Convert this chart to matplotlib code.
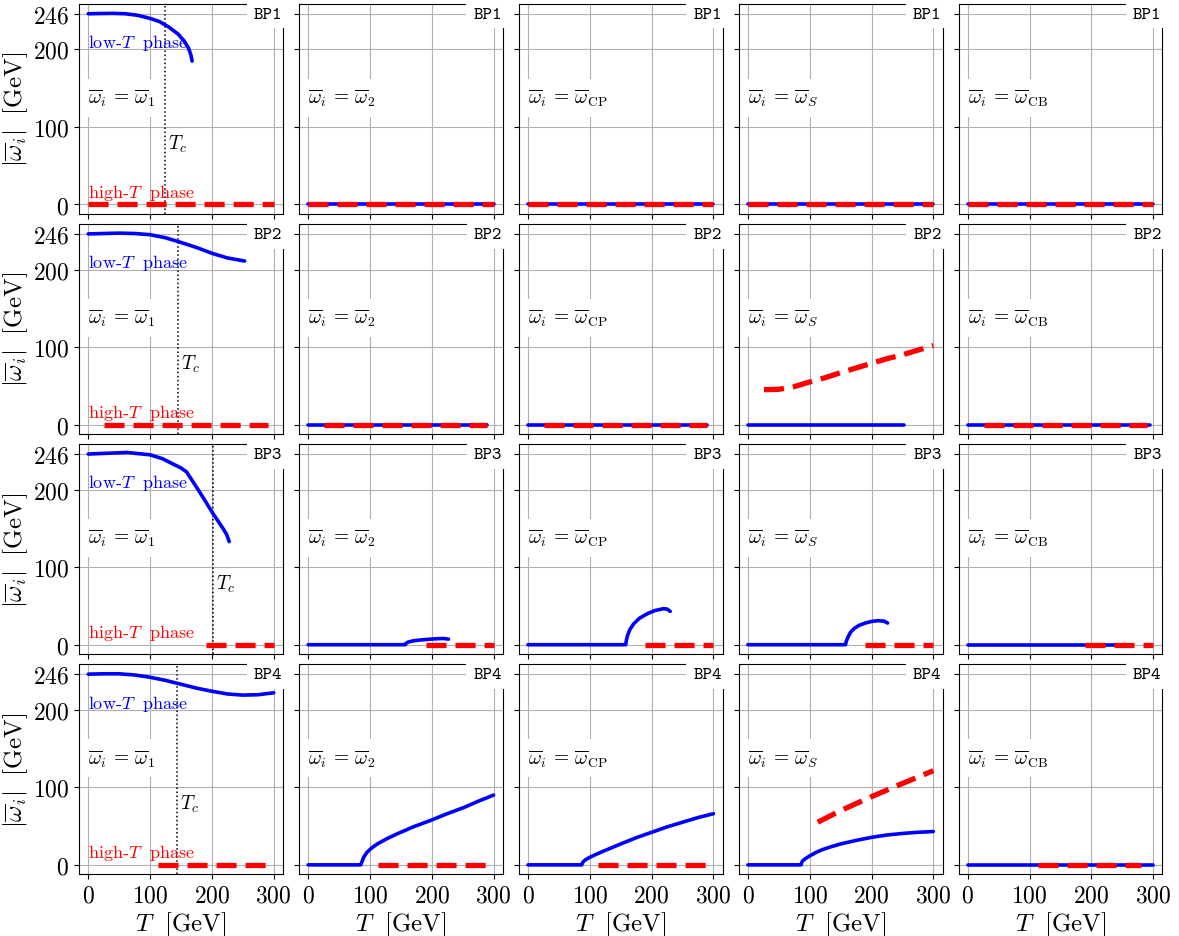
# -*- coding: utf-8 -*-
# *** Vacuum expectation values vs temperature, 4 benchmark points x 5 directions ***#
import matplotlib
matplotlib.use("Agg")
import matplotlib.pyplot as plt

plt.rcParams["font.family"] = "serif"
plt.rcParams["font.serif"] = ["cmr10"]
plt.rcParams["mathtext.fontset"] = "cm"
plt.rcParams["axes.formatter.use_mathtext"] = True

# *** Data ***#
benchmarks = ["BP1", "BP2", "BP3", "BP4"]
directions = [r"$\overline{\omega}_i\,=\,\overline{\omega}_1$",
              r"$\overline{\omega}_i\,=\,\overline{\omega}_2$",
              r"$\overline{\omega}_i\,=\,\overline{\omega}_{\rm CP}$",
              r"$\overline{\omega}_i\,=\,\overline{\omega}_S$",
              r"$\overline{\omega}_i\,=\,\overline{\omega}_{\rm CB}$"]
T_crit = [124, 144.5, 202, 144]
x_ticks = [0, 100, 200, 300]
y_ticks = [0, 100, 200, 246]

# BP1
bp1_w1_low_T = [0, 20, 40, 60, 80, 100, 115, 130, 145, 155, 162, 166, 168]
bp1_w1_low_v = [246, 246.3, 246.5, 246, 244, 240, 236, 229, 220, 211, 202, 193, 185]
bp1_zero_low_T = [0, 300]
bp1_high_T = [0, 300]

# BP2
bp2_w1_low_T = [0, 25, 50, 75, 100, 125, 150, 175, 200, 225, 253]
bp2_w1_low_v = [246, 246.5, 247, 246.5, 245, 241, 235, 228.5, 221, 215, 211]
bp2_zero_low_T = [0, 290]
bp2_s_zero_low_T = [0, 253]
bp2_cb_zero_low_T = [0, 295]
bp2_high_T = [26, 290]
bp2_s_high_T = [26, 50, 75, 100, 125, 150, 175, 200, 225, 250, 275, 300]
bp2_s_high_v = [45, 45.5, 49, 55, 60.5, 67, 73, 79, 85, 90, 96, 102]

# BP3
bp3_w1_low_T = [0, 30, 63, 100, 120, 135, 150, 159, 181, 202, 218, 224, 228]
bp3_w1_low_v = [246, 247, 248, 245, 240, 234, 228, 223, 196, 169, 150, 142, 133]
bp3_w2_low_T = [0, 157, 158, 162, 170, 180, 195, 210, 220, 227]
bp3_w2_low_v = [0, 0, 1.5, 3.5, 5, 6, 7, 7.8, 8, 7.2]
bp3_cp_low_T = [0, 158, 159, 161, 165, 171, 180, 193, 205, 219, 225, 230]
bp3_cp_low_v = [0, 0, 5, 12, 20, 27, 34, 40, 44, 46.5, 46, 43]
bp3_s_low_T = [0, 158, 159, 162, 166, 172, 180, 190, 200, 210, 220, 226]
bp3_s_low_v = [0, 0, 4, 10, 16, 21, 25, 28, 30, 31, 30.5, 28]
bp3_cb_low_T = [0, 255]
bp3_high_T = [190, 300]

# BP4
bp4_w1_low_T = [0, 25, 50, 75, 100, 125, 150, 175, 200, 225, 250, 275, 300]
bp4_w1_low_v = [246, 246.5, 246.5, 245, 242, 238, 233, 228, 224, 220.5, 219, 219.5, 222]
bp4_w2_low_T = [0, 85, 87, 90, 95, 103, 112, 128, 144, 170, 197, 225, 252, 275, 300]
bp4_w2_low_v = [0, 0, 4, 10, 16, 22, 27, 34, 40, 49, 57, 66, 74, 82, 90]
bp4_cp_low_T = [0, 87, 88, 90, 93, 97, 102, 110, 120, 135, 150, 175, 200, 225, 250, 275, 300]
bp4_cp_low_v = [0, 0, 2.5, 4.5, 6.5, 8.5, 10.5, 13.5, 17, 22, 27, 35, 42, 49, 55, 61, 66]
bp4_s_low_T = [0, 86, 87, 89, 92, 96, 100, 110, 120, 135, 150, 175, 200, 225, 250, 275, 300]
bp4_s_low_v = [0, 0, 3, 5.5, 7.5, 9.5, 11.5, 16, 19.5, 23.5, 27, 31.5, 35.5, 38.5, 40.5, 42, 43]
bp4_s_high_T = [113, 150, 200, 250, 300]
bp4_s_high_v = [55, 70, 88, 105, 121.5]
bp4_cb_low_T = [0, 300]
bp4_high_T = [113, 300]
bp4_cb_high_T = [113, 280]

# (low T, low v, high T, high v) per panel, rows = BP, cols = direction
def flat(ts):
    return [0 for _ in ts]

panels = [
    [(bp1_w1_low_T, bp1_w1_low_v, bp1_high_T, flat(bp1_high_T))] +
    [(bp1_zero_low_T, flat(bp1_zero_low_T), bp1_high_T, flat(bp1_high_T))] * 4,
    [(bp2_w1_low_T, bp2_w1_low_v, bp2_high_T, flat(bp2_high_T)),
     (bp2_zero_low_T, flat(bp2_zero_low_T), bp2_high_T, flat(bp2_high_T)),
     (bp2_zero_low_T, flat(bp2_zero_low_T), bp2_high_T, flat(bp2_high_T)),
     (bp2_s_zero_low_T, flat(bp2_s_zero_low_T), bp2_s_high_T, bp2_s_high_v),
     (bp2_cb_zero_low_T, flat(bp2_cb_zero_low_T), bp2_high_T, flat(bp2_high_T))],
    [(bp3_w1_low_T, bp3_w1_low_v, bp3_high_T, flat(bp3_high_T)),
     (bp3_w2_low_T, bp3_w2_low_v, bp3_high_T, flat(bp3_high_T)),
     (bp3_cp_low_T, bp3_cp_low_v, bp3_high_T, flat(bp3_high_T)),
     (bp3_s_low_T, bp3_s_low_v, bp3_high_T, flat(bp3_high_T)),
     (bp3_cb_low_T, flat(bp3_cb_low_T), bp3_high_T, flat(bp3_high_T))],
    [(bp4_w1_low_T, bp4_w1_low_v, bp4_high_T, flat(bp4_high_T)),
     (bp4_w2_low_T, bp4_w2_low_v, bp4_high_T, flat(bp4_high_T)),
     (bp4_cp_low_T, bp4_cp_low_v, bp4_high_T, flat(bp4_high_T)),
     (bp4_s_low_T, bp4_s_low_v, bp4_s_high_T, bp4_s_high_v),
     (bp4_cb_low_T, flat(bp4_cb_low_T), bp4_cb_high_T, flat(bp4_cb_high_T))],
]

# *** Plot ***#
fig = plt.figure(figsize=(11.79, 9.37), dpi=100)
axes = fig.subplots(4, 5, sharex=True, sharey=True)
fig.subplots_adjust(left=0.067, right=0.986, top=0.995, bottom=0.066,
                    wspace=0.078, hspace=0.048)

for r in range(4):
    for c in range(5):
        ax = axes[r, c]
        lo_T, lo_v, hi_T, hi_v = panels[r][c]
        ax.set_axisbelow(True)
        ax.grid(True, color="#b0b0b0", lw=0.8)
        ax.plot(lo_T, lo_v, color="blue", lw=2.6, solid_capstyle="round", zorder=3)
        ax.plot(hi_T, hi_v, color="red", lw=3.8, dashes=(3.8, 1.7), zorder=4)
        ax.text(0, 131, directions[c], fontsize=14, ha="left", va="baseline",
                bbox=dict(fc="white", ec="none", pad=6), zorder=2)
        ax.text(0.995, 0.986, benchmarks[r], transform=ax.transAxes,
                fontfamily="cmtt10", fontsize=13, ha="right", va="top",
                bbox=dict(fc="white", ec="none", pad=5), zorder=5)
        if c == 0:
            ax.axvline(T_crit[r], color="black", ls=":", lw=1.1, zorder=2)
            ax.text(T_crit[r] + 5, 72, r"$T_c$", fontsize=14, va="baseline")
            ax.text(0, 203, r"low-$T\ \ \mathrm{phase}$", color="blue", fontsize=13,
                    va="baseline")
            ax.text(0, 10, r"high-$T\ \ \mathrm{phase}$", color="red", fontsize=13,
                    va="baseline")
            ax.set_ylabel(r"$|\overline{\omega}_i|\ \ \mathrm{[GeV]}$", fontsize=18,
                          labelpad=2)
        if r == 3:
            ax.set_xlabel(r"$T\ \ \mathrm{[GeV]}$", fontsize=18, labelpad=2)
        ax.tick_params(labelsize=17)

axes[0, 0].set_xlim(-15, 315)
axes[0, 0].set_ylim(-12, 259)
axes[0, 0].set_xticks(x_ticks)
axes[0, 0].set_yticks(y_ticks)

plt.savefig("out.png", dpi=100)
